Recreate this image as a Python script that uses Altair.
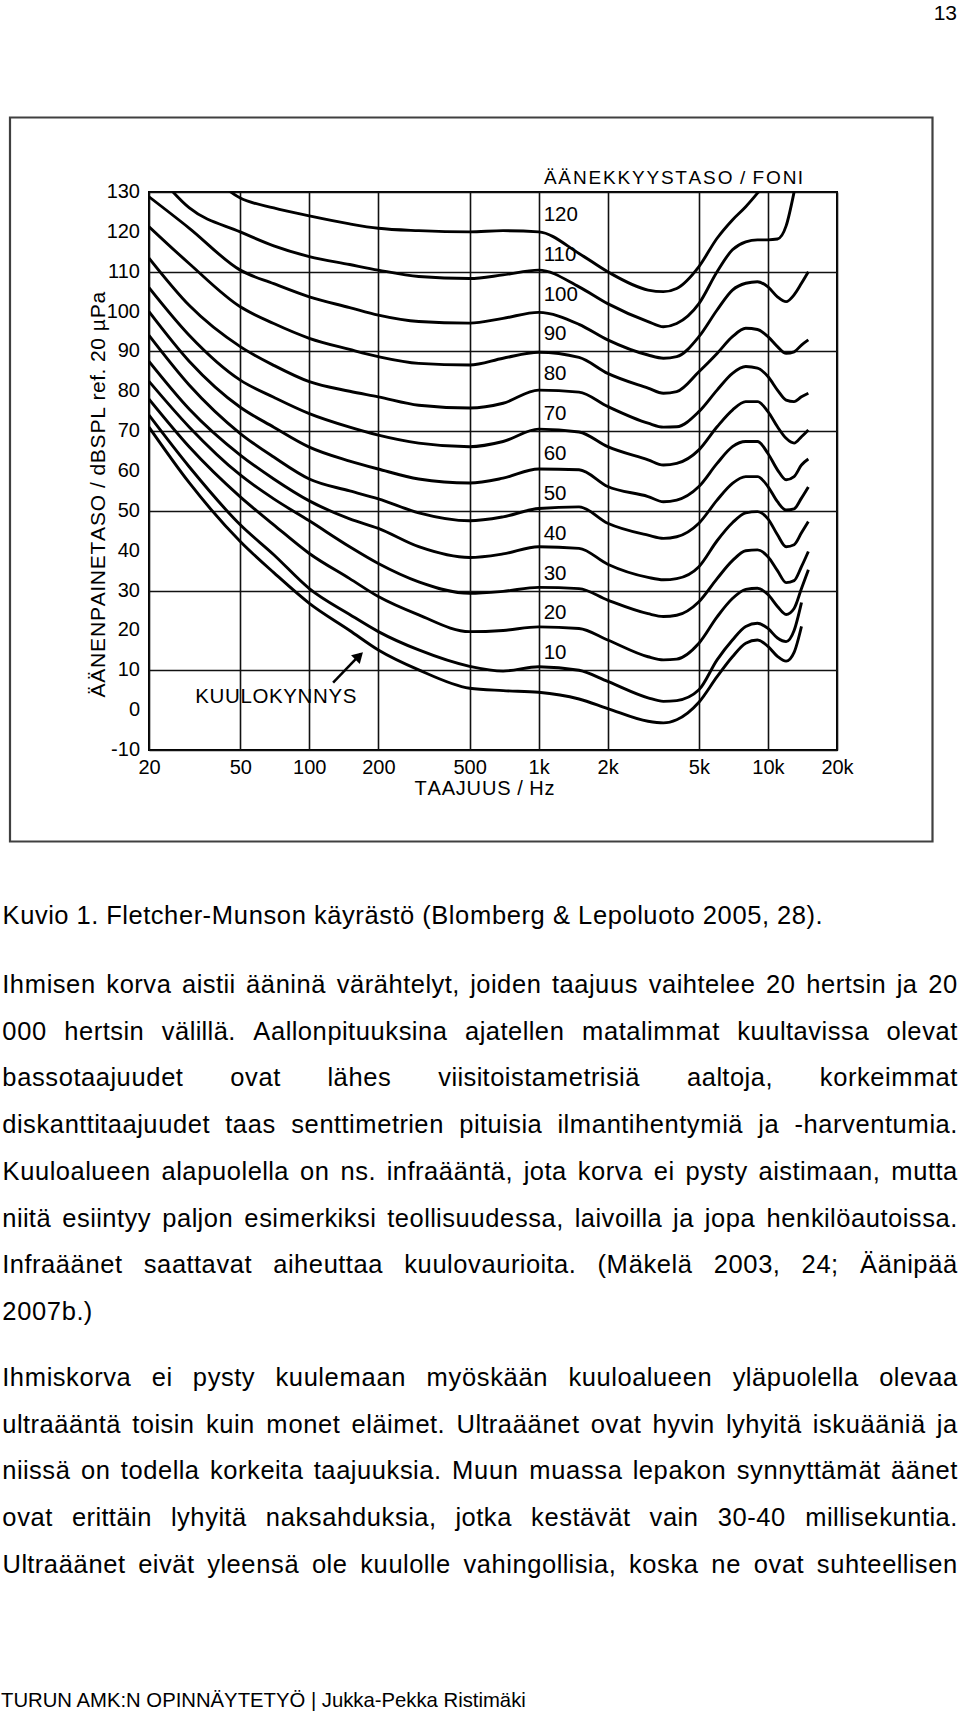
import altair as alt
import pandas as pd

# ---------------- data ----------------
FREQ = [20, 30, 50, 70, 100, 150, 200, 300, 500, 700, 1000, 1500, 2000, 3000, 3500,
        4000, 5000, 6000, 7000, 8000, 9000, 10000, 11000, 12000, 13000, 14000, 15000]

THRESHOLD = [71, 57, 42.3, 34.5, 26.8, 20, 15.1, 10.1, 5.5, 4.9, 4.5, 2.8, 0.4, -2.8, -3.2,
             -2.4, 2, 8.4, 13.4, 16.8, 17.6, 16, 13.5, 12.3, 14.5, 21, None]
PHON_10 = [74, 61, 46.5, 39, 30.5, 24, 19.7, 15.1, 11, 9.8, 10.9, 10, 7.2, 3.1, 2.2,
           2.4, 5.1, 12.6, 17.6, 21, 21.8, 20.5, 18.1, 17.2, 20, 27, None]
PHON_20 = [78, 66, 53.5, 46.5, 39.3, 33, 28.5, 23.9, 19.7, 20, 20.9, 20.5, 17.6, 13.4, 12.6,
           12.8, 16.8, 23.4, 28, 30.3, 30.6, 29, 26, 24, 25.5, 30.5, 35.2]
PHON_30 = [82.5, 71, 59, 53, 47.5, 41, 36.8, 32.2, 29.3, 29.8, 30.8, 30.5, 27.6, 24.2, 23.5,
           23.8, 27.2, 33, 37.5, 40, 40.2, 38.5, 35, 32, 32.5, 36, 39.8]
PHON_40 = [87.5, 75.5, 64, 58, 52.5, 48, 45.6, 41, 38.3, 39.2, 41, 40.6, 36.6, 33.3, 32.7,
           33, 36, 42.5, 47, 49.5, 49.8, 48, 44, 41, 41.5, 44.5, 47.3]
PHON_50 = [94, 81.5, 69.4, 63.5, 58, 55, 53, 49.5, 47.5, 48.5, 50.6, 51, 46.9, 43.9, 43.1,
           43.5, 46.9, 52.7, 56.9, 58.6, 58.6, 56.1, 52.3, 50.2, 50.5, 53.2, 56]
PHON_60 = [100, 87.5, 76, 71, 66, 62.5, 60.5, 58, 57, 58.2, 60.5, 60.3, 56.1, 53.6, 52.3,
           52.7, 56.1, 61.9, 66.1, 67.4, 67.4, 64.4, 60.3, 57.8, 58.6, 61.5, 63]
PHON_70 = [106, 94, 82.8, 78.5, 74.4, 71, 69, 67, 66.1, 67.4, 70.5, 69.8, 66.1, 62.8, 61.5,
           61.9, 65.3, 71.1, 75.3, 77.4, 77.4, 74.9, 71.1, 68.2, 67, 68.6, 70.3]
PHON_80 = [113.4, 101.5, 91.2, 86.5, 82.4, 80, 78.6, 76.5, 75.8, 77, 80.3, 79.8, 76.2, 72, 71,
           71.1, 74.9, 80.3, 84.5, 86.2, 85.8, 83.7, 80.3, 77.8, 77.4, 78.6, 79.5]
PHON_90 = [121.3, 112, 101.2, 97, 93.3, 90.5, 88.7, 87, 86.6, 88.3, 89.8, 88.5, 84.5, 80.8, 79.5,
           79.9, 84.9, 89.5, 93.7, 95.8, 95.5, 93.7, 91.2, 89.5, 89.9, 91.6, 92.9]
PHON_100 = [128.8, 120.9, 110.4, 107, 103.7, 101, 99.1, 97.5, 97.1, 98.3, 99.8, 96.8, 92.9, 89.1, 88.3,
            88.7, 93.7, 100.4, 105.4, 107.1, 107.5, 106.2, 103.7, 102.5, 104.2, 107.1, 110]
PHON_110 = [137, 126, 120, 116.5, 113.8, 111.8, 110.4, 108.8, 108.3, 109.2, 110.4, 106.2, 102, 97.5, 96.2,
            97, 102, 110, 115.5, 117.5, 118, 118, 118.2, 121.5, 130, 140, 150]
PHON_120 = [148, 139, 128.5, 126, 124, 122, 120.9, 120.3, 120, 120.3, 120, 114.6, 110, 105.4, 105,
            105.8, 111.3, 118.4, 123, 126.3, 129.7, 133, 137, 141, 145, 149, 153]

CURVE_NAMES = ["0", "10", "20", "30", "40", "50", "60", "70", "80", "90", "100", "110", "120"]
CURVE_VALUES = [THRESHOLD, PHON_10, PHON_20, PHON_30, PHON_40, PHON_50, PHON_60,
                PHON_70, PHON_80, PHON_90, PHON_100, PHON_110, PHON_120]
LABEL_PHONS = [10, 20, 30, 40, 50, 60, 70, 80, 90, 100, 110, 120]

X_TICKS = [20, 50, 100, 200, 500, 1000, 2000, 5000, 10000, 20000]
Y_TICKS = list(range(-10, 131, 10))

ARROW_F = [127, 168]
ARROW_DB = [6.9, 14.2]
ARROW_HEAD = [165, 13.6]

CAPTION = "Kuvio 1. Fletcher-Munson käyrästö (Blomberg & Lepoluoto 2005, 28)."
PARA1 = [
    "Ihmisen korva aistii ääninä värähtelyt, joiden taajuus vaihtelee 20 hertsin ja 20",
    "000 hertsin välillä. Aallonpituuksina ajatellen matalimmat kuultavissa olevat",
    "bassotaajuudet ovat lähes viisitoistametrisiä aaltoja, korkeimmat",
    "diskanttitaajuudet taas senttimetrien pituisia ilmantihentymiä ja -harventumia.",
    "Kuuloalueen alapuolella on ns. infraääntä, jota korva ei pysty aistimaan, mutta",
    "niitä esiintyy paljon esimerkiksi teollisuudessa, laivoilla ja jopa henkilöautoissa.",
    "Infraäänet saattavat aiheuttaa kuulovaurioita. (Mäkelä 2003, 24; Äänipää",
    "2007b.)",
]
PARA2 = [
    "Ihmiskorva ei pysty kuulemaan myöskään kuuloalueen yläpuolella olevaa",
    "ultraääntä toisin kuin monet eläimet. Ultraäänet ovat hyvin lyhyitä iskuääniä ja",
    "niissä on todella korkeita taajuuksia. Muun muassa lepakon synnyttämät äänet",
    "ovat erittäin lyhyitä naksahduksia, jotka kestävät vain 30-40 millisekuntia.",
    "Ultraäänet eivät yleensä ole kuulolle vahingollisia, koska ne ovat suhteellisen",
]
FOOTER = "TURUN AMK:N OPINNÄYTETYÖ | Jukka-Pekka Ristimäki"
PAGE_NO = "13"
TITLE_TOP = "ÄÄNEKKYYSTASO / FONI"
TITLE_X = "TAAJUUS / Hz"
TITLE_Y = "ÄÄNENPAINETASO / dBSPL ref. 20 µPa"
THRESHOLD_LABEL = "KUULOKYNNYS"

# ---------------- layout ----------------
LEFT, TOP, W, H = 149, 192, 688, 558
PAGE_W, PAGE_H = 960, 1712
FONT = "Liberation Sans"

ARIAL = {
    'a': 556, 'b': 556, 'c': 500, 'd': 556, 'e': 556, 'f': 278, 'g': 556, 'h': 556, 'i': 222,
    'j': 222, 'k': 500, 'l': 222, 'm': 833, 'n': 556, 'o': 556, 'p': 556, 'q': 556, 'r': 333,
    's': 500, 't': 278, 'u': 556, 'v': 500, 'w': 722, 'x': 500, 'y': 500, 'z': 500, 'ä': 556,
    'ö': 556, 'å': 556,
    'A': 667, 'B': 667, 'C': 722, 'D': 722, 'E': 667, 'F': 611, 'G': 778, 'H': 722, 'I': 278,
    'J': 500, 'K': 667, 'L': 556, 'M': 833, 'N': 722, 'O': 778, 'P': 667, 'Q': 778, 'R': 722,
    'S': 667, 'T': 611, 'U': 722, 'V': 667, 'W': 944, 'X': 667, 'Y': 667, 'Z': 611, 'Ä': 667,
    'Ö': 778,
    ' ': 278, '.': 278, ',': 278, '(': 333, ')': 333, '&': 667, '-': 333, ';': 278, ':': 278,
    '|': 260, '/': 278, 'µ': 576,
}


def char_rows(text, x0, base, adv, glyph, right=None, vertical=False):
    widths = [ARIAL.get(c, 556) * adv / 1000.0 for c in text]
    extra = 0.0
    if right is not None:
        n_sp = text.count(' ')
        if n_sp:
            extra = (right - x0 - sum(widths)) / n_sp
    rows = []
    s = 0.0
    for c, w in zip(text, widths):
        if c != ' ':
            mid = s + w / 2.0
            if vertical:
                rows.append({'ch': c, 'x': base - LEFT, 'y': x0 - mid - TOP, 'fs': glyph, 'ang': 270})
            else:
                rows.append({'ch': c, 'x': x0 + mid - LEFT, 'y': base - TOP, 'fs': glyph, 'ang': 0})
        s += w + (extra if c == ' ' else 0.0)
    return rows


BODY_ADV, BODY_GLYPH = 26.7, 25.5
BODY_LEFT, BODY_RIGHT = 2, 957.5
LINE = 46.7

rows = []
rows += char_rows(CAPTION, BODY_LEFT, 924, BODY_ADV, BODY_GLYPH)
b = 993.0
for i, ln in enumerate(PARA1):
    last = i == len(PARA1) - 1
    rows += char_rows(ln, BODY_LEFT, b, BODY_ADV, BODY_GLYPH, None if last else BODY_RIGHT)
    b += LINE
b = 1386.0
for ln in PARA2:
    rows += char_rows(ln, BODY_LEFT, b, BODY_ADV, BODY_GLYPH, BODY_RIGHT)
    b += LINE
# chart texts (scanned figure lettering is wide)
rows += char_rows(TITLE_TOP, 543, 183.5, 21.7, 19)
rows += char_rows(TITLE_X, 414, 795, 21.3, 20)
rows += char_rows(THRESHOLD_LABEL, 195, 703, 21.4, 20.5)
rows += char_rows(TITLE_Y, 698, 105, 22.2, 21, vertical=True)
text_df = pd.DataFrame(rows)

# curves table
crow = []
for name, vals in zip(CURVE_NAMES, CURVE_VALUES):
    for f, v in zip(FREQ, vals):
        if v is not None:
            crow.append({'curve': name, 'f': f, 'db': v})
curve_df = pd.DataFrame(crow)

label_df = pd.DataFrame({'f': [1000] * len(LABEL_PHONS), 'db': LABEL_PHONS,
                         'txt': [str(p) for p in LABEL_PHONS]})
ytick_df = pd.DataFrame({'db': Y_TICKS, 'txt': [str(v) for v in Y_TICKS]})
arrow_df = pd.DataFrame({'f': [ARROW_F[0]], 'f2': [ARROW_F[1]], 'db': [ARROW_DB[0]], 'db2': [ARROW_DB[1]]})
head_df = pd.DataFrame({'f': [ARROW_HEAD[0]], 'db': [ARROW_HEAD[1]]})

xs = alt.Scale(type='log', domain=[20, 20000], nice=False)
ys = alt.Scale(domain=[-10, 130], nice=False, zero=False)

x_axis = alt.Axis(values=X_TICKS, grid=True, ticks=False, domain=False, title=None,
                  labelExpr="datum.value >= 1000 ? (datum.value / 1000) + 'k' : '' + datum.value",
                  labelPadding=7, labelOverlap=False, labelFlush=False)
y_axis = alt.Axis(values=Y_TICKS, grid=True, ticks=False, domain=False, title=None,
                  labels=False)

curves = alt.Chart(curve_df).mark_line(
    color='black', strokeWidth=2.9, interpolate='monotone', clip=True
).encode(
    x=alt.X('f:Q', scale=xs, axis=x_axis),
    y=alt.Y('db:Q', scale=ys, axis=y_axis),
    detail='curve:N',
)

labels = alt.Chart(label_df).mark_text(
    align='left', baseline='middle', dx=5, dy=-17, fontSize=20.5, font=FONT, color='black'
).encode(x=alt.X('f:Q', title=None), y=alt.Y('db:Q', title=None), text='txt:N')

yticks = alt.Chart(ytick_df).mark_text(
    align='right', baseline='middle', fontSize=20, font=FONT, color='black'
).encode(x=alt.value(-9), y=alt.Y('db:Q', title=None), text='txt:N')

arrow = alt.Chart(arrow_df).mark_rule(color='black', strokeWidth=2.5).encode(
    x=alt.X('f:Q', title=None), x2='f2:Q', y=alt.Y('db:Q', title=None), y2='db2:Q')

head = alt.Chart(head_df).mark_point(
    shape='triangle-up', angle=45, size=150, filled=True, color='black', opacity=1
).encode(x=alt.X('f:Q', title=None), y=alt.Y('db:Q', title=None))

frame = alt.Chart(pd.DataFrame({'x': [10 - LEFT], 'x2': [932.5 - LEFT],
                                'y': [117.5 - TOP], 'y2': [841.5 - TOP]})).mark_rect(
    filled=False, stroke='#404040', strokeWidth=2.2, fill=None
).encode(x=alt.X('x:Q', scale=None, axis=None), x2='x2:Q',
         y=alt.Y('y:Q', scale=None, axis=None), y2='y2:Q')

page_text = alt.Chart(text_df).mark_text(
    align='center', baseline='alphabetic', font=FONT, color='black'
).encode(
    x=alt.X('x:Q', scale=None, axis=None),
    y=alt.Y('y:Q', scale=None, axis=None),
    text='ch:N',
    size=alt.Size('fs:Q', scale=None, legend=None),
    angle=alt.Angle('ang:Q', scale=None, legend=None),
)

footer = alt.Chart(pd.DataFrame({'t': [FOOTER]})).mark_text(
    align='left', baseline='alphabetic', font=FONT, fontSize=20.3, color='black'
).encode(x=alt.value(1 - LEFT), y=alt.value(1706.5 - TOP), text='t:N')

page_no = alt.Chart(pd.DataFrame({'t': [PAGE_NO]})).mark_text(
    align='right', baseline='alphabetic', font=FONT, fontSize=21, color='black'
).encode(x=alt.value(957 - LEFT), y=alt.value(20 - TOP), text='t:N')

chart = alt.layer(frame, curves, labels, yticks, arrow, head, page_text, footer, page_no).properties(
    width=W, height=H,
    padding={'left': LEFT, 'top': TOP, 'right': PAGE_W - LEFT - W, 'bottom': PAGE_H - TOP - H},
    autosize=alt.AutoSizeParams(type='none'),
    background='white',
).configure_view(
    stroke='black', strokeWidth=2
).configure_axis(
    labelFont=FONT, labelFontSize=20, labelColor='black', labelOverlap=False,
    gridColor='#111111', gridWidth=1.6, gridOpacity=1,
)

chart.save("out.html", embed_options={"renderer": "svg", "actions": False})
